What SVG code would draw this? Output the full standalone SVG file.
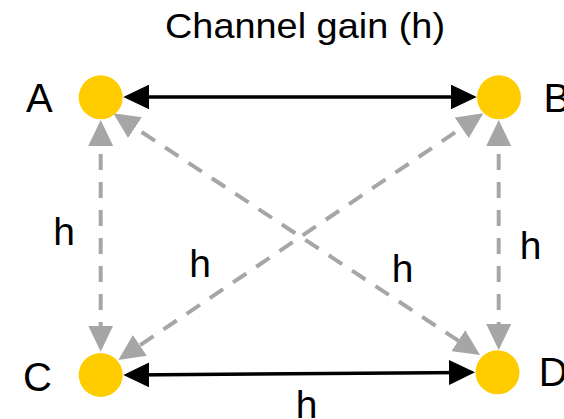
<svg xmlns="http://www.w3.org/2000/svg" width="564" height="419" viewBox="0 0 564 419">
  <style>
    .node { fill: #FFCC00; }
    .label { font-family: "Liberation Sans", Arial, sans-serif; font-size: 40px; fill: #000; }
    .gain { font-family: "Liberation Sans", Arial, sans-serif; font-size: 39px; fill: #000; text-anchor: middle; }
    .title { font-family: "Liberation Sans", Arial, sans-serif; font-size: 35px; fill: #000; text-anchor: middle; }
    .solid { stroke: #000; stroke-width: 3.5; fill: none; marker-start: url(#headBlack); marker-end: url(#headBlack); }
    .dashed { stroke: #A6A6A6; stroke-width: 4; stroke-dasharray: 16 12; fill: none; marker-start: url(#headGray); marker-end: url(#headGray); }
  </style>
  <defs>
    <marker id="headBlack" markerUnits="userSpaceOnUse" markerWidth="26" markerHeight="25" refX="20" refY="12.5" orient="auto-start-reverse" viewBox="0 0 26 25">
      <path d="M0,0 L26,12.5 L0,25 z" fill="#000"/>
    </marker>
    <marker id="headGray" markerUnits="userSpaceOnUse" markerWidth="26" markerHeight="25" refX="20" refY="12.5" orient="auto-start-reverse" viewBox="0 0 26 25">
      <path d="M0,0 L26,12.5 L0,25 z" fill="#A6A6A6"/>
    </marker>
  </defs>

  <text class="title" x="305" y="38" textLength="280" lengthAdjust="spacingAndGlyphs">Channel gain (h)</text>

  <g id="connectors">
    <line class="solid" x1="129.3" y1="97" x2="470.7" y2="97"/>
    <line class="solid" x1="129.3" y1="375" x2="469" y2="372.4"/>
    <line class="dashed" x1="100.7" y1="126" x2="100.7" y2="345.7"/>
    <line class="dashed" x1="498.7" y1="126" x2="498.7" y2="344"/>
    <line class="dashed" x1="118.3" y1="116.6" x2="475" y2="351.7"/>
    <line class="dashed" x1="478.3" y1="116.7" x2="123.3" y2="356.6"/>
  </g>

  <g id="edge-labels">
    <text class="gain" x="64" y="245">h</text>
    <text class="gain" x="200" y="277">h</text>
    <text class="gain" x="402.5" y="282">h</text>
    <text class="gain" x="530.5" y="259">h</text>
    <text class="gain" x="306.5" y="418">h</text>
  </g>

  <g id="node-A">
    <circle class="node" cx="100.7" cy="97.3" r="22"/>
    <text class="label" x="26" y="111.7">A</text>
  </g>
  <g id="node-B">
    <circle class="node" cx="499" cy="97.3" r="22"/>
    <text class="label" x="543.5" y="111.7">B</text>
  </g>
  <g id="node-C">
    <circle class="node" cx="100.7" cy="375" r="22"/>
    <text class="label" x="23" y="390.5">C</text>
  </g>
  <g id="node-D">
    <circle class="node" cx="497.5" cy="372.3" r="22"/>
    <text class="label" x="538.7" y="386">D</text>
  </g>
</svg>
